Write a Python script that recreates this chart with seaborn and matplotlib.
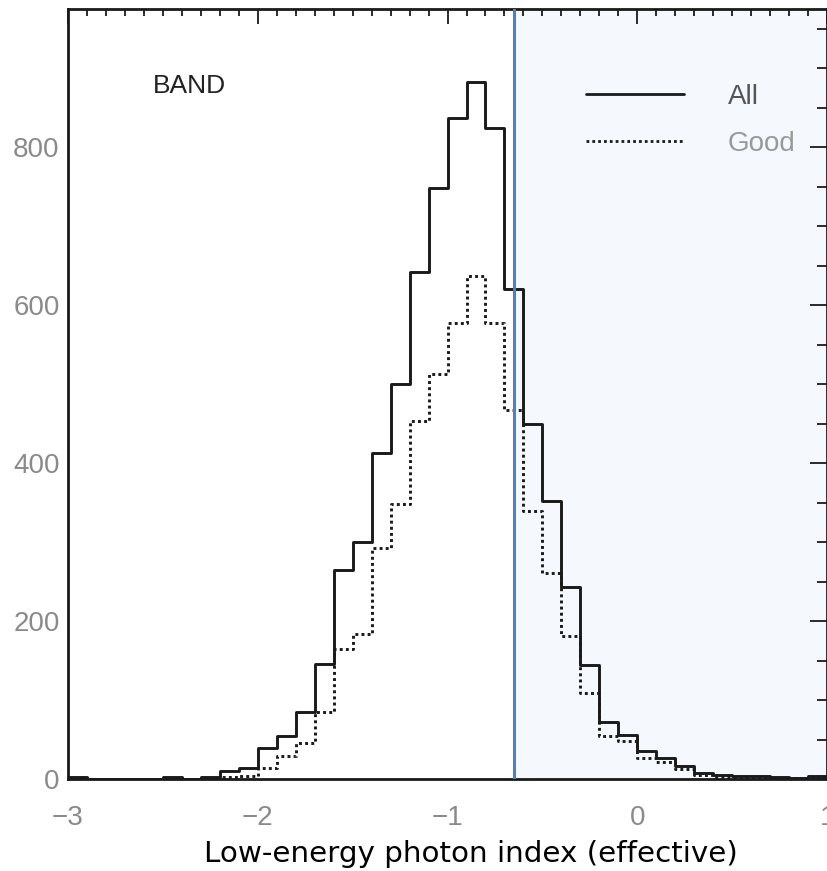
import numpy as np
import pandas as pd
import matplotlib
matplotlib.use("Agg")
import matplotlib.pyplot as plt
from matplotlib.ticker import MultipleLocator, FixedLocator
from matplotlib.lines import Line2D
import seaborn as sns

# ---- data (bins of width 0.1 from -3.0 to 1.0) ----
bin_left = [-3.0, -2.9, -2.8, -2.7, -2.6, -2.5, -2.4, -2.3, -2.2, -2.1,
            -2.0, -1.9, -1.8, -1.7, -1.6, -1.5, -1.4, -1.3, -1.2, -1.1,
            -1.0, -0.9, -0.8, -0.7, -0.6, -0.5, -0.4, -0.3, -0.2, -0.1,
            0.0, 0.1, 0.2, 0.3, 0.4, 0.5, 0.6, 0.7, 0.8, 0.9]
counts_all = [2, 0, 0, 0, 0, 2, 0, 2, 10, 14,
              39, 54, 85, 146, 265, 300, 413, 500, 642, 748,
              837, 883, 824, 620, 450, 352, 243, 144, 72, 56,
              35, 26, 17, 7, 5, 4, 4, 2, 1, 4]
counts_good = [1, 0, 0, 0, 0, 1, 0, 1, 3, 4,
               14, 29, 45, 85, 165, 184, 293, 348, 453, 513,
               578, 637, 578, 467, 339, 261, 181, 109, 54, 48,
               27, 22, 13, 5, 3, 3, 3, 1, 1, 3]
bin_width = 0.1
cut_value = -0.65
x_range = (-3, 1)
y_range = (0, 975)
x_major = [-3, -2, -1, 0, 1]
y_major = [0, 200, 400, 600, 800]
series_labels = ["All", "Good"]

sns.set_theme(style="white")
plt.rcParams["font.family"] = ["Liberation Sans", "DejaVu Sans"]

df = pd.DataFrame({
    "x": [round(b + bin_width / 2, 3) for b in bin_left] * 2,
    "w": counts_all + counts_good,
    "series": ["All"] * len(bin_left) + ["Good"] * len(bin_left),
})
edges = [round(b, 2) for b in bin_left] + [round(bin_left[-1] + bin_width, 2)]

fig = plt.figure(figsize=(8.28, 8.71), dpi=100)
ax = fig.add_axes([0.082, 0.1056, 0.917, 0.884])

ax.axvspan(cut_value, x_range[1], color="#f5f9fd", zorder=0, lw=0)

sns.histplot(data=df[df.series == "All"], x="x", weights="w", bins=edges,
             element="step", fill=False, color="#1a1a1a", linewidth=2.1,
             ax=ax, zorder=3)
sns.histplot(data=df[df.series == "Good"], x="x", weights="w", bins=edges,
             element="step", fill=False, color="#1a1a1a", linewidth=2.1,
             linestyle=(0, (1.0, 1.1)), ax=ax, zorder=3)

ax.axvline(cut_value, color="#4f81bd", linewidth=2.2, zorder=4)

ax.set_xlim(*x_range)
ax.set_ylim(*y_range)
ax.xaxis.set_major_locator(FixedLocator(x_major))
ax.xaxis.set_minor_locator(MultipleLocator(0.1))
ax.yaxis.set_major_locator(FixedLocator(y_major))
ax.yaxis.set_minor_locator(MultipleLocator(50))

ax.tick_params(axis="both", which="both", direction="in", top=True, right=True,
               color="#1a1a1a", width=1.3)
ax.tick_params(axis="x", which="major", length=11, labelsize=20, pad=19,
               labelcolor="#8a8a8a")
ax.tick_params(axis="x", which="minor", length=5)
ax.tick_params(axis="y", which="major", length=12, labelsize=20, pad=6,
               labelcolor="#8a8a8a")
ax.tick_params(axis="y", which="minor", length=7)
for s in ax.spines.values():
    s.set_linewidth(2.0)
    s.set_color("#1a1a1a")

ax.set_ylabel("")
ax.set_xlabel("Low-energy photon index (effective)", fontsize=21.2,
              family="DejaVu Sans", color="black", labelpad=6, x=0.531)

ax.text(0.112, 0.9, "BAND", transform=ax.transAxes, fontsize=19,
        color="#222222", ha="left", va="center")

handles = [Line2D([], [], color="#1a1a1a", lw=2.0),
           Line2D([], [], color="#1a1a1a", lw=2.0, linestyle=(0, (1.0, 1.1)))]
leg = ax.legend(handles, series_labels, loc="upper left",
                bbox_to_anchor=(0.65, 0.935), frameon=False, fontsize=20,
                handlelength=3.5, handletextpad=1.6, labelspacing=0.75)
leg.get_texts()[0].set_color("#555555")
leg.get_texts()[1].set_color("#999999")

fig.savefig("out.png", dpi=100)
